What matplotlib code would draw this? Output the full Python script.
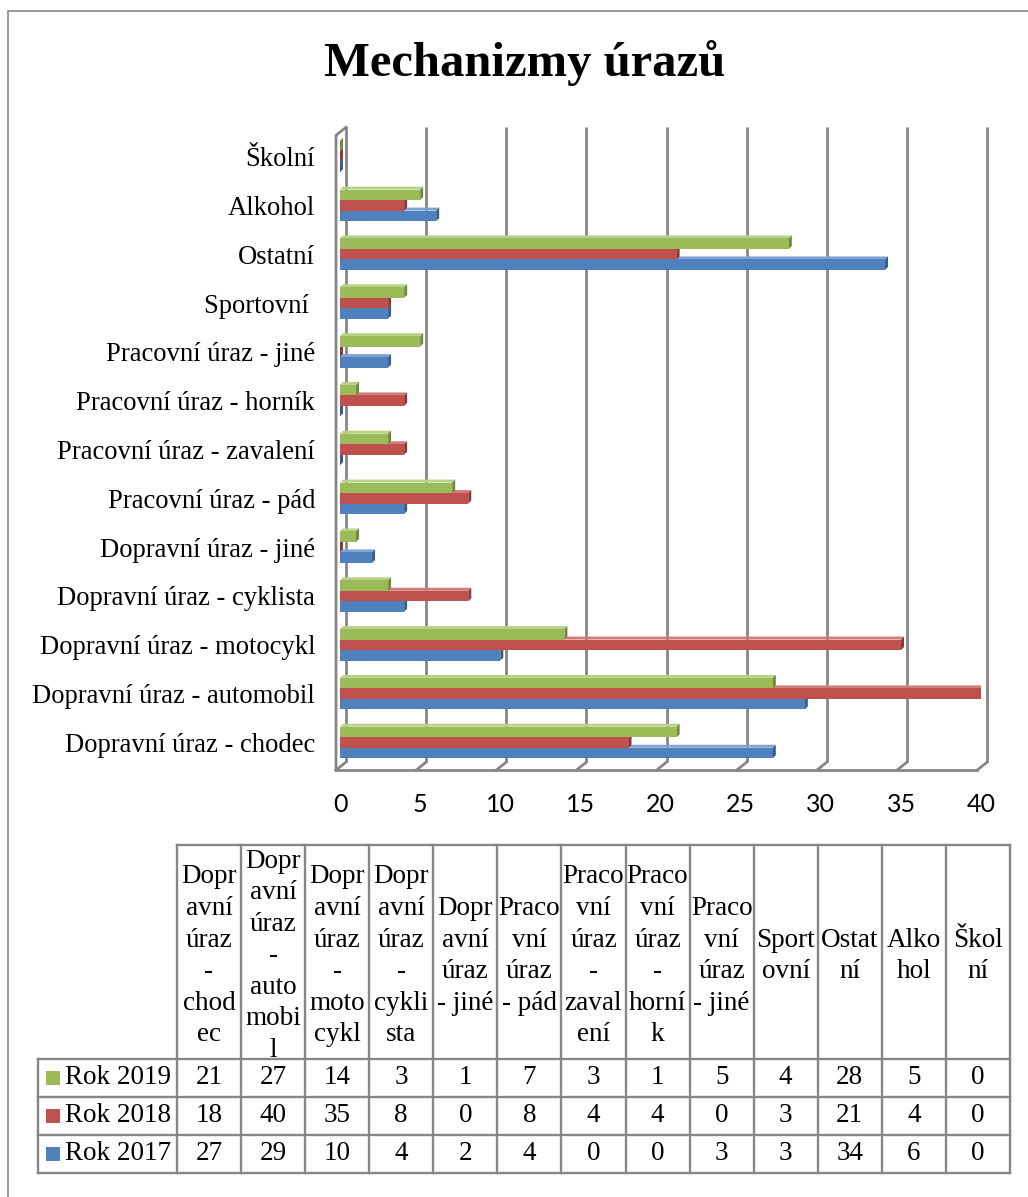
import numpy as np
import matplotlib.pyplot as plt
from matplotlib.patches import Polygon, Rectangle

# categories from bottom to top of the bar chart
categories = ["Dopravní úraz - chodec", "Dopravní úraz - automobil",
              "Dopravní úraz - motocykl", "Dopravní úraz - cyklista",
              "Dopravní úraz - jiné", "Pracovní úraz - pád",
              "Pracovní úraz - zavalení", "Pracovní úraz - horník",
              "Pracovní úraz - jiné", "Sportovní ", "Ostatní", "Alkohol",
              "Školní"]

# the same categories as wrapped in the data table header
headers = ["Dopr\navní\núraz\n-\nchod\nec", "Dopr\navní\núraz\n-\nauto\nmobi\nl",
           "Dopr\navní\núraz\n-\nmoto\ncykl", "Dopr\navní\núraz\n-\ncykli\nsta",
           "Dopr\navní\núraz\n- jiné", "Praco\nvní\núraz\n- pád",
           "Praco\nvní\núraz\n-\nzaval\není", "Praco\nvní\núraz\n-\nhorní\nk",
           "Praco\nvní\núraz\n- jiné", "Sport\novní", "Ostat\nní", "Alko\nhol",
           "Škol\nní"]

years = ["Rok 2019", "Rok 2018", "Rok 2017"]
rok2019 = [21, 27, 14, 3, 1, 7, 3, 1, 5, 4, 28, 5, 0]
rok2018 = [18, 40, 35, 8, 0, 8, 4, 4, 0, 3, 21, 4, 0]
rok2017 = [27, 29, 10, 4, 2, 4, 0, 0, 3, 3, 34, 6, 0]

# front, top, side shades
green = ("#9bbb59", "#b9d28a", "#71893f")
red = ("#c0504d", "#d27c79", "#8c3836")
blue = ("#4f81bd", "#7fa3d0", "#385d8a")
grid = "#868686"

serif = "Liberation Serif"

W, H = 1028, 1197
fig = plt.figure(figsize=(W / 100, H / 100), dpi=100)

fig.patches.append(Rectangle((8 / W, -0.1), 1.2, 1.1 - 11 / H, transform=fig.transFigure,
                             fill=False, edgecolor=grid, lw=1.2))

fig.text(525 / W, 1 - 63 / H, "Mechanizmy úrazů", ha="center", va="center",
         fontsize=35, fontweight="bold", family=serif)

# ---- 3D clustered bar chart ----
ax = fig.add_axes([340 / W, (H - 766.9) / H, 641.2 / W, 634.8 / H])
ax.set_xlim(0, 40)
ax.set_ylim(-0.5, 12.5)
for s in ax.spines.values():
    s.set_visible(False)

px_x = 40 / 641.2     # data units per pixel
px_y = 13 / 634.8
bx, by = 6 * px_x, 4.8 * px_y      # bar plane -> back wall
fx, fy = -4 * px_x, -3.2 * px_y    # bar plane -> front edge
cx, cy = 3 * px_x, 3 * px_y        # bar end cap depth

ticks = np.arange(0, 41, 5)
ylo, yhi = -0.5, 12.5
for v in ticks:
    ax.plot([v + bx, v + bx], [ylo + by, yhi + by], color=grid, lw=2.0, zorder=1,
            clip_on=False, solid_capstyle="butt")
    ax.plot([v + bx, v + fx], [ylo + by, ylo + fy], color=grid, lw=2.0, zorder=1,
            clip_on=False)
ax.plot([fx, 40 + fx], [ylo + fy, ylo + fy], color=grid, lw=2.0, zorder=1, clip_on=False)
ax.plot([fx, fx, bx], [ylo + fy, yhi + fy, yhi + by], color=grid, lw=2.0, zorder=1,
        clip_on=False)

h = 0.215
series = [(rok2017, blue, -h, 3), (rok2018, red, 0, 4), (rok2019, green, h, 5)]
pos = np.arange(len(categories))
for vals, (c_front, c_top, c_side), off, z in series:
    for i, v in enumerate(vals):
        y0 = i + off - h / 2
        y1 = y0 + h
        ax.add_patch(Polygon([(0, y1), (cx, y1 + cy), (v + cx, y1 + cy), (v, y1)],
                             closed=True, facecolor=c_top, edgecolor="none", zorder=z))
        ax.add_patch(Polygon([(v, y0), (v + cx, y0 + cy), (v + cx, y1 + cy), (v, y1)],
                             closed=True, facecolor=c_side, edgecolor="none", zorder=z))
    ax.barh(pos + off, vals, height=h, color=c_front, zorder=z)

ax.set_yticks(pos, categories, fontsize=19.2, family=serif)
ax.set_xticks(ticks, [str(t) for t in ticks], fontsize=18, family="Lato")
ax.tick_params(axis="y", length=0, pad=18)
ax.tick_params(axis="x", length=0, pad=19)

# ---- data table ----
tax = fig.add_axes([38 / W, (H - 1173) / H, (1010 - 38) / W, (1173 - 845) / H])
lead = (177 - 38) / 64.1
head = 214 / 38
top = 3 + head
ncol = len(categories)
tax.set_xlim(-lead, ncol)
tax.set_ylim(0, top)
tax.axis("off")

for r in range(4):
    tax.plot([-lead, ncol], [r, r], color=grid, lw=1.7, clip_on=False)
tax.plot([0, ncol], [top, top], color=grid, lw=1.7, clip_on=False)
tax.plot([-lead, -lead], [0, 3], color=grid, lw=1.7, clip_on=False)
for c in range(ncol + 1):
    tax.plot([c, c], [0, top], color=grid, lw=1.7, clip_on=False)

for c, txt in enumerate(headers):
    tax.text(c + 0.5, 3 + head / 2 - 0.1, txt, ha="center", va="center",
             multialignment="center", fontsize=19.5, family=serif, linespacing=1.345)

rows = [(rok2019, green[0]), (rok2018, red[0]), (rok2017, blue[0])]
for k, (vals, col) in enumerate(rows):
    yc = 2.5 - k
    tax.plot(-1.934, yc, marker="s", markersize=10.5, color=col, markeredgewidth=0)
    tax.text(-1.747, yc, years[k], ha="left", va="center", fontsize=19.5, family=serif)
    for c, v in enumerate(vals):
        tax.text(c + 0.5, yc, str(v), ha="center", va="center", fontsize=19.5, family=serif)

fig.savefig("out.png", dpi=100)
plt.close()
